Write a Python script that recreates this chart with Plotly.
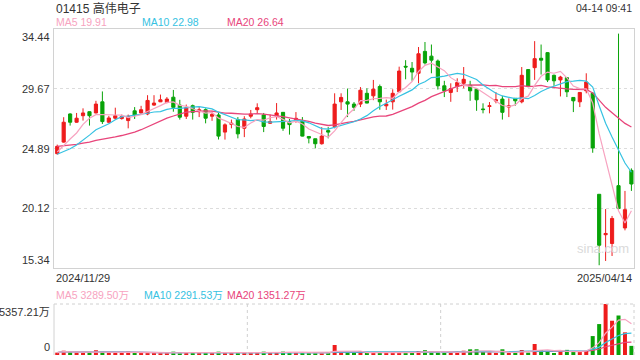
import plotly.graph_objects as go
import pandas as pd

# ---------------- data ----------------
opens = [24.48, 25.40, 27.65, 26.99, 27.51, 27.83, 27.73, 28.62, 26.99, 27.31,
         27.28, 27.12, 27.90, 27.73, 27.65, 28.36, 28.62, 28.57, 28.99, 28.36,
         27.47, 28.31, 27.83, 27.99, 27.47, 27.57, 26.20, 26.82, 27.20, 26.51,
         27.47, 27.99, 27.57, 26.91, 27.47, 27.78, 27.04, 27.20, 27.12, 25.85,
         25.67, 25.27, 26.32, 26.64, 28.62, 28.62, 28.44, 28.44, 29.30, 29.10,
         29.84, 28.30, 28.62, 29.42, 31.46, 31.30, 30.90, 32.65, 32.27, 31.88,
         29.90, 29.37, 29.84, 30.10, 29.95, 29.63, 28.05, 28.25, 28.68, 28.84,
         28.20, 28.90, 28.62, 31.20, 31.35, 32.10, 32.55, 30.74, 30.37, 30.55,
         28.97, 28.62, 29.50, 29.30, 21.23, 18.00, 17.30, 21.92, 18.54, 23.14]
highs = [25.20, 27.39, 27.70, 27.73, 28.10, 27.85, 28.70, 29.45, 27.50, 28.15,
         27.60, 27.60, 28.20, 28.30, 29.15, 29.15, 29.20, 29.00, 29.57, 28.78,
         28.40, 28.40, 28.20, 28.10, 27.90, 27.73, 26.90, 27.20, 27.40, 27.47,
         27.97, 28.50, 27.73, 27.60, 28.52, 27.80, 27.25, 27.80, 27.40, 25.85,
         25.67, 26.60, 26.60, 29.30, 29.30, 29.68, 28.60, 29.80, 29.70, 30.37,
         30.00, 28.80, 29.62, 31.43, 31.95, 31.80, 33.00, 33.40, 33.20, 32.00,
         30.30, 30.10, 30.50, 31.40, 30.30, 29.70, 28.50, 28.60, 29.40, 29.10,
         28.90, 28.90, 31.40, 31.20, 33.47, 33.20, 32.60, 30.80, 30.70, 30.60,
         29.00, 29.40, 30.90, 29.40, 21.23, 20.05, 19.50, 34.07, 21.50, 23.30]
lows = [24.40, 25.35, 26.72, 26.95, 27.12, 26.72, 27.70, 26.85, 26.90, 27.20,
        27.20, 26.50, 27.25, 27.70, 27.55, 28.30, 28.60, 28.50, 27.83, 27.20,
        27.25, 27.20, 27.40, 26.90, 27.10, 25.61, 25.60, 26.50, 25.70, 25.80,
        27.30, 27.70, 26.20, 26.85, 27.20, 26.30, 26.00, 26.95, 25.85, 25.30,
        24.90, 25.20, 25.70, 26.50, 27.97, 27.40, 27.90, 28.20, 28.50, 28.75,
        27.99, 27.97, 28.00, 29.40, 30.42, 30.30, 30.10, 31.60, 30.90, 29.60,
        29.00, 28.62, 29.40, 29.70, 28.70, 27.90, 27.70, 27.70, 28.50, 27.20,
        27.40, 28.30, 28.50, 29.80, 30.37, 30.80, 30.20, 29.90, 29.05, 29.00,
        27.80, 28.20, 29.30, 24.55, 15.56, 15.90, 16.30, 20.00, 18.35, 21.50]
closes = [25.06, 26.99, 26.99, 27.31, 27.73, 27.51, 28.44, 27.04, 27.33, 27.51,
          27.45, 27.47, 27.57, 27.99, 28.73, 28.52, 28.78, 28.84, 28.18, 27.39,
          28.15, 27.78, 27.99, 27.31, 27.62, 25.88, 26.78, 26.90, 26.06, 27.25,
          27.65, 28.15, 26.65, 27.04, 27.73, 26.51, 26.80, 27.30, 25.88, 25.72,
          25.27, 25.88, 26.20, 28.44, 28.97, 28.44, 28.18, 29.55, 28.52, 29.63,
          28.62, 28.44, 29.30, 31.08, 31.40, 31.00, 32.46, 31.73, 31.95, 29.90,
          29.50, 29.68, 30.16, 30.42, 29.50, 28.78, 28.00, 28.30, 28.78, 27.78,
          28.30, 28.70, 30.74, 29.84, 32.07, 31.95, 30.37, 30.30, 30.60, 29.42,
          28.70, 29.37, 30.20, 24.93, 17.16, 18.10, 19.30, 20.10, 20.00, 22.05]
# closes before the visible window (only used for the moving averages)
pre_closes = [26.2, 26.0, 25.9, 25.8, 25.9, 25.6, 25.5, 25.4, 25.4, 25.3,
              24.9, 24.6, 24.3, 24.0, 23.4, 24.2, 24.6, 24.9, 24.3]
# volume in 万
volumes = [250, 450, 300, 250, 200, 250, 500, 350, 200, 200,
           200, 350, 200, 150, 300, 150, 200, 150, 350, 250,
           250, 200, 150, 250, 150, 350, 200, 150, 300, 250,
           150, 150, 350, 150, 300, 350, 250, 150, 300, 200,
           200, 250, 150, 1050, 250, 200, 200, 400, 200, 300,
           300, 150, 250, 300, 200, 250, 400, 500, 350, 300,
           250, 200, 250, 450, 600, 600, 300, 250, 200, 600,
           200, 150, 525, 245, 1155, 525, 315, 105, 350, 540,
           380, 420, 430, 1990, 3250, 5357.21, 3600, 4150, 2380, 960]

start_date = "2024/11/29"
end_date = "2025/04/14"
title_text = "01415 高伟电子"
time_text = "04-14 09:41"
price_ticks = [34.44, 29.67, 24.89, 20.12, 15.34]
vol_max_label = "5357.21万"
ma_names = ["MA5", "MA10", "MA20"]
price_ma_latest = [19.91, 22.98, 26.64]
vol_ma_latest = [3289.50, 2291.53, 1351.27]

RED = "#ee1c1c"
GREEN = "#08a308"
C_MA5 = "#f7a3c0"
C_MA10 = "#36c2e2"
C_MA20 = "#e8457b"
MA_COLORS = [C_MA5, C_MA10, C_MA20]
FONT = "Liberation Sans, Arial, Noto Sans CJK SC, sans-serif"

n = len(closes)
idx = list(range(n))
allc = pd.Series(pre_closes + closes)
ma5 = allc.rolling(5).mean().tolist()[-n:]
ma10 = allc.rolling(10).mean().tolist()[-n:]
ma20 = allc.rolling(20).mean().tolist()[-n:]
vs = pd.Series(volumes)
vma5 = vs.rolling(5, min_periods=1).mean().tolist()
vma10 = vs.rolling(10, min_periods=1).mean().tolist()
vma20 = vs.rolling(20, min_periods=1).mean().tolist()
vcolors = [RED if c >= o else GREEN for o, c in zip(opens, closes)]

fig = go.Figure()
fig.add_trace(go.Candlestick(
    x=idx, open=opens, high=highs, low=lows, close=closes,
    increasing=dict(line=dict(color=RED, width=1), fillcolor=RED),
    decreasing=dict(line=dict(color=GREEN, width=1), fillcolor=GREEN),
    whiskerwidth=0, hoverinfo="skip", showlegend=False, xaxis="x", yaxis="y"))
for vals, col, w in [(ma20, C_MA20, 1.3), (ma10, C_MA10, 1.2), (ma5, C_MA5, 1.2)]:
    fig.add_trace(go.Scatter(x=idx, y=vals, mode="lines", line=dict(color=col, width=w),
                             hoverinfo="skip", showlegend=False, xaxis="x", yaxis="y"))

fig.add_trace(go.Bar(x=idx, y=volumes, marker=dict(color=vcolors, line=dict(width=0)),
                     width=0.62, hoverinfo="skip", showlegend=False, xaxis="x2", yaxis="y2"))
for vals, col in [(vma20, C_MA20), (vma10, C_MA10), (vma5, C_MA5)]:
    fig.add_trace(go.Scatter(x=idx, y=vals, mode="lines", line=dict(color=col, width=1.2),
                             hoverinfo="skip", showlegend=False, xaxis="x2", yaxis="y2"))

xr = [-0.5, n - 0.6]
price_dom = [0.2669, 1.0]
vol_dom = [0.0, 0.1564]
fig.update_layout(
    width=640, height=360,
    margin=dict(l=54, r=6, t=29, b=5),
    paper_bgcolor="white", plot_bgcolor="white",
    font=dict(family=FONT, size=11, color="#333333"),
    xaxis=dict(domain=[0, 1], range=xr, showticklabels=False, showgrid=False, zeroline=False,
               showline=True, mirror=True, linecolor="#d2d2d2", linewidth=1,
               rangeslider=dict(visible=False), anchor="y", fixedrange=True),
    yaxis=dict(domain=price_dom, range=[price_ticks[-1], price_ticks[0]],
               tickvals=price_ticks[1:-1], showticklabels=False, ticks="",
               showgrid=True, gridcolor="#dcdcdc", griddash="dot", gridwidth=1, zeroline=False,
               showline=True, mirror=True, linecolor="#d2d2d2", linewidth=1, anchor="x"),
    xaxis2=dict(domain=[0, 1], range=xr, showticklabels=False, showgrid=False, zeroline=False,
                showline=False, anchor="y2"),
    yaxis2=dict(domain=vol_dom, range=[0, max(volumes)], showticklabels=False, showgrid=False,
                zeroline=False, showline=False, anchor="x2"),
)

shapes = [
    dict(type="line", xref="paper", yref="y2 domain", x0=0, x1=0, y0=0, y1=1,
         line=dict(color="#d2d2d2", width=1)),
    dict(type="line", xref="paper", yref="y2 domain", x0=0, x1=1, y0=1, y1=1,
         line=dict(color="#d0d0d0", width=1, dash="dot")),
    dict(type="line", xref="paper", yref="y2 domain", x0=1, x1=1, y0=0, y1=1,
         line=dict(color="#d0d0d0", width=1, dash="dot")),
    dict(type="line", xref="paper", yref="y2 domain", x0=1/3, x1=1/3, y0=0, y1=1,
         line=dict(color="#d0d0d0", width=1, dash="dot")),
    dict(type="line", xref="paper", yref="y2 domain", x0=2/3, x1=2/3, y0=0, y1=1,
         line=dict(color="#d0d0d0", width=1, dash="dot")),
]
fig.update_layout(shapes=shapes)

ann = []
def add(text, x, y, xanchor="left", yanchor="middle", size=11, color="#333333", xref="paper", yref="paper", xshift=0):
    ann.append(dict(text=text, x=x, y=y, xref=xref, yref=yref, xanchor=xanchor, yanchor=yanchor,
                    showarrow=False, font=dict(size=size, color=color, family=FONT), xshift=xshift))

add(title_text, 0.0, 1.0644, size=12)
add(time_text, 1.0, 1.0644, xanchor="right", size=10.5)
for name, val, col, xp in zip(ma_names, price_ma_latest, MA_COLORS, [0.0, 0.148, 0.295]):
    add("%s %.2f" % (name, val), xp, 1.0215, size=10.5, color=col)
for i, v in enumerate(price_ticks):
    ya = "top" if i == 0 else ("bottom" if i == len(price_ticks) - 1 else "middle")
    add("%.2f" % v, 0, v, xanchor="right", yanchor=ya, yref="y", xshift=-2)
add(start_date, 0.0, 0.2362)
add(end_date, 1.0, 0.2362, xanchor="right")
for name, val, col, xp in zip(ma_names, vol_ma_latest, MA_COLORS, [0.0, 0.152, 0.295]):
    add("%s %.2f万" % (name, val), xp, 0.184, size=10.5, color=col)
add(vol_max_label, 0, max(volumes), xanchor="right", yanchor="top", yref="y2", xshift=-2)
add("0", 0, 0, xanchor="right", yanchor="bottom", yref="y2", xshift=-2)
add("sina.com", 0.9466, 0.328, xanchor="center", size=13, color="#dadada")
fig.update_layout(annotations=ann)

fig.write_html("out.html")
